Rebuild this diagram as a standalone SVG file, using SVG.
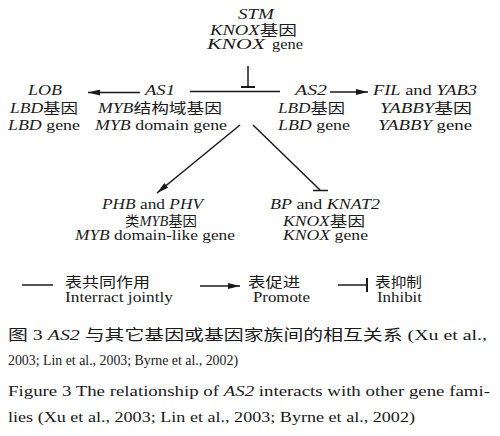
<svg xmlns="http://www.w3.org/2000/svg" width="500" height="436" viewBox="0 0 500 436">
<style>
text{font-family:"Liberation Serif","Noto Sans CJK SC",serif;font-size:14px;fill:#1a1a1a}
.i{font-style:italic}
.cap{font-size:15px}
.ln{stroke:#1a1a1a;stroke-width:1.5;fill:none}
</style>
<defs>
<marker id="arr" viewBox="0 0 12 6" refX="12" refY="3" markerWidth="12" markerHeight="6" orient="auto" markerUnits="userSpaceOnUse"><path d="M0,0 L12,3 L0,6 z" fill="#1a1a1a"/></marker>
<marker id="bar" viewBox="0 0 2 14" refX="1" refY="7" markerWidth="2" markerHeight="14" orient="auto" markerUnits="userSpaceOnUse"><rect x="0" y="0" width="2" height="14" fill="#1a1a1a"/></marker>
</defs>
<rect width="500" height="436" fill="#fff"/>
<g id="STM">
<text x="238" y="19" class="i" textLength="36" lengthAdjust="spacingAndGlyphs">STM</text>
<text x="210" y="35" textLength="87" lengthAdjust="spacingAndGlyphs"><tspan class="i">KNOX</tspan>基因</text>
<text x="207" y="49" class="i" textLength="58" lengthAdjust="spacingAndGlyphs">KNOX</text>
<text x="272" y="49" textLength="31" lengthAdjust="spacingAndGlyphs">gene</text>
</g>
<g id="LOB">
<text x="28" y="95" class="i" textLength="34" lengthAdjust="spacingAndGlyphs">LOB</text>
<text x="10" y="113" textLength="68" lengthAdjust="spacingAndGlyphs"><tspan class="i">LBD</tspan>基因</text>
<text x="8" y="130" textLength="72" lengthAdjust="spacingAndGlyphs"><tspan class="i">LBD</tspan> gene</text>
</g>
<g id="AS1">
<text x="145" y="95" class="i" textLength="30" lengthAdjust="spacingAndGlyphs">AS1</text>
<text x="98" y="113" textLength="124" lengthAdjust="spacingAndGlyphs"><tspan class="i">MYB</tspan>结构域基因</text>
<text x="95" y="130" textLength="132" lengthAdjust="spacingAndGlyphs"><tspan class="i">MYB</tspan> domain gene</text>
</g>
<g id="AS2">
<text x="295" y="95" class="i" textLength="32" lengthAdjust="spacingAndGlyphs">AS2</text>
<text x="278" y="113" textLength="67" lengthAdjust="spacingAndGlyphs"><tspan class="i">LBD</tspan>基因</text>
<text x="278" y="130" textLength="72" lengthAdjust="spacingAndGlyphs"><tspan class="i">LBD</tspan> gene</text>
</g>
<g id="FIL">
<text x="373" y="95" textLength="104" lengthAdjust="spacingAndGlyphs"><tspan class="i">FIL</tspan> and <tspan class="i">YAB3</tspan></text>
<text x="380" y="113" textLength="92" lengthAdjust="spacingAndGlyphs"><tspan class="i">YABBY</tspan>基因</text>
<text x="378" y="130" textLength="94" lengthAdjust="spacingAndGlyphs"><tspan class="i">YABBY</tspan> gene</text>
</g>
<g id="PHB">
<text x="102" y="209" textLength="101" lengthAdjust="spacingAndGlyphs"><tspan class="i">PHB</tspan> and <tspan class="i">PHV</tspan></text>
<text x="125" y="226" textLength="72" lengthAdjust="spacingAndGlyphs">类<tspan class="i">MYB</tspan>基因</text>
<text x="75" y="240" textLength="160" lengthAdjust="spacingAndGlyphs"><tspan class="i">MYB</tspan> domain-like gene</text>
</g>
<g id="BP">
<text x="270" y="209" textLength="110" lengthAdjust="spacingAndGlyphs"><tspan class="i">BP</tspan> and <tspan class="i">KNAT2</tspan></text>
<text x="283" y="226" textLength="82" lengthAdjust="spacingAndGlyphs"><tspan class="i">KNOX</tspan>基因</text>
<text x="283" y="240" textLength="85" lengthAdjust="spacingAndGlyphs"><tspan class="i">KNOX</tspan> gene</text>
</g>
<g id="connectors">
<line class="ln" x1="248" y1="66" x2="248" y2="87" marker-end="url(#bar)"/>
<line class="ln" x1="190" y1="91.5" x2="280" y2="91.5"/>
<line class="ln" x1="140" y1="92.5" x2="88" y2="92.5" marker-end="url(#arr)"/>
<line class="ln" x1="330" y1="92" x2="368" y2="92" marker-end="url(#arr)"/>
<line class="ln" x1="240" y1="125" x2="157" y2="193" marker-end="url(#arr)"/>
<line class="ln" x1="253" y1="125" x2="320" y2="190"/>
<line class="ln" x1="313" y1="190.5" x2="328" y2="190.5"/>
</g>
<g id="legend">
<line class="ln" x1="22" y1="285" x2="53" y2="285"/>
<text x="65" y="287" textLength="85" lengthAdjust="spacingAndGlyphs">表共同作用</text>
<text x="65" y="302" textLength="108" lengthAdjust="spacingAndGlyphs">Interract jointly</text>
<line class="ln" x1="200" y1="286" x2="240" y2="286" marker-end="url(#arr)"/>
<text x="248" y="287" textLength="52" lengthAdjust="spacingAndGlyphs">表促进</text>
<text x="253" y="302" textLength="57" lengthAdjust="spacingAndGlyphs">Promote</text>
<line class="ln" x1="338" y1="285" x2="367" y2="285" marker-end="url(#bar)"/>
<text x="375" y="287" textLength="47" lengthAdjust="spacingAndGlyphs">表抑制</text>
<text x="377" y="302" textLength="45" lengthAdjust="spacingAndGlyphs">Inhibit</text>
</g>
<g id="caption">
<text class="cap" x="8" y="340" textLength="479" lengthAdjust="spacingAndGlyphs">图 3 <tspan class="i">AS2</tspan> 与其它基因或基因家族间的相互关系 (Xu et al.,</text>
<text class="cap" x="8" y="365" textLength="230" lengthAdjust="spacingAndGlyphs">2003; Lin et al., 2003; Byrne et al., 2002)</text>
<text class="cap" x="8" y="396" textLength="482" lengthAdjust="spacingAndGlyphs">Figure 3 The relationship of <tspan class="i">AS2</tspan> interacts with other gene fami-</text>
<text class="cap" x="8" y="422" textLength="407" lengthAdjust="spacingAndGlyphs">lies (Xu et al., 2003; Lin et al., 2003; Byrne et al., 2002)</text>
</g>
</svg>
